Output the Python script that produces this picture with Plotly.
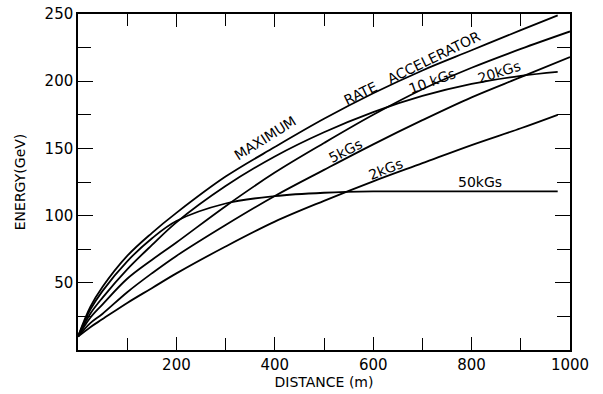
import plotly.graph_objects as go

# distances (m)
x_main = [0, 25, 50, 100, 150, 200, 300, 400, 500, 600, 700, 800, 900, 975]
x_full = [0, 25, 50, 100, 150, 200, 300, 400, 500, 600, 700, 800, 900, 1000]

max_rate = [10, 32, 47, 70, 87, 102, 129, 151, 172, 191, 208, 223, 238, 249]
kgs50 = [10, 30, 44, 66, 83, 96, 109, 114.5, 117, 118, 118, 118, 118, 118]
kgs20 = [10, 27, 39, 60, 78, 95, 122, 144, 162, 177, 189, 198, 204, 207]
kgs10 = [10, 24, 34, 53, 67, 80, 107, 132, 154, 175, 194, 210, 224, 237]
kgs5 = [10, 20, 27, 43, 57, 70, 93, 114.6, 134, 153, 171, 188, 203, 218]
kgs2 = [10, 17, 23, 35, 46, 57, 77, 95.5, 111, 125.5, 139, 152.5, 165, 175]

series = [
    (x_main, max_rate),
    (x_main, kgs50),
    (x_main, kgs20),
    (x_full, kgs10),
    (x_full, kgs5),
    (x_main, kgs2),
]

labels = [
    ("MAXIMUM", 380, 158, -32),
    ("RATE   ACCELERATOR", 679, 210, -26),
    ("10 kGs", 720, 200, -20),
    ("20kGs", 856, 207, -18),
    ("5kGs", 543, 148, -27),
    ("2kGs", 626, 135, -22),
    ("50kGs", 817, 125, 0),
]

x_ticks = [200, 400, 600, 800, 1000]
y_ticks = [50, 100, 150, 200, 250]

FONT = "DejaVu Sans"

fig = go.Figure()
for xs, ys in series:
    fig.add_trace(go.Scatter(x=xs, y=ys, mode="lines",
                             line=dict(color="black", width=1.8, shape="spline", smoothing=1.0),
                             showlegend=False, hoverinfo="skip"))

for text, lx, ly, ang in labels:
    fig.add_annotation(x=lx, y=ly, text=text, showarrow=False, textangle=ang,
                       font=dict(family=FONT, size=14, color="black"))

fig.update_layout(
    width=603, height=394,
    margin=dict(l=78, r=33, t=14, b=44),
    paper_bgcolor="white", plot_bgcolor="white",
    font=dict(family=FONT, color="black"),
)
fig.update_xaxes(range=[0, 1000], tickmode="array", tickvals=x_ticks,
                 ticks="inside", ticklen=13, tickwidth=1.3, tickcolor="black",
                 minor=dict(tickmode="linear", tick0=0, dtick=100, ticks="inside", ticklen=12, tickcolor="black", tickwidth=1.3),
                 showline=True, linecolor="black", linewidth=1.5, mirror="ticks",
                 showgrid=False, zeroline=False, automargin=False,
                 tickfont=dict(family=FONT, size=15),
                 title=dict(text="DISTANCE (m)", font=dict(family=FONT, size=14), standoff=0))
fig.update_yaxes(range=[0, 250], tickmode="array", tickvals=y_ticks,
                 ticks="inside", ticklen=15, tickwidth=1.3, tickcolor="black",
                 minor=dict(tickmode="linear", tick0=0, dtick=25, ticks="inside", ticklen=13, tickcolor="black", tickwidth=1.3),
                 showline=True, linecolor="black", linewidth=1.5, mirror="ticks",
                 showgrid=False, zeroline=False, automargin=False,
                 tickfont=dict(family=FONT, size=15),
                 title=dict(text="ENERGY(GeV)", font=dict(family=FONT, size=14), standoff=16))

fig.write_html("out.html", config={"displayModeBar": False},
               post_script="document.body.style.margin='0';document.body.style.overflow='hidden';")
